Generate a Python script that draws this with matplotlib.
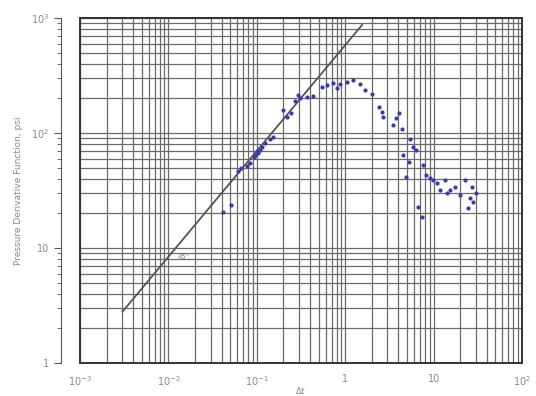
import matplotlib
matplotlib.use("Agg")
import matplotlib.pyplot as plt
from matplotlib.patches import Rectangle
import numpy as np

# derivative data
dt = [0.0412, 0.0508, 0.0619, 0.067, 0.0771, 0.0842, 0.0958, 0.104,
      0.109, 0.124, 0.141, 0.151, 0.222, 0.241, 0.27, 0.31, 0.366,
      0.436, 0.54, 0.62, 0.73, 0.87, 1.04, 1.23, 1.48, 1.69, 2.0,
      2.41, 2.61, 2.68, 3.47, 3.78, 4.1, 4.36, 4.56, 5.2, 4.9, 5.4,
      5.86, 6.3, 6.65, 7.3, 7.5, 8.3, 9.1, 9.9, 10.8, 11.8, 13.4,
      14.0, 15.2, 17.4, 19.7, 22.6, 24.6, 25.8, 26.9, 28.0, 30.4,
      0.092, 0.1, 0.113, 0.2, 0.29, 0.8]
deriv = [20.7, 23.7, 47, 49.3, 51.6, 54.5, 64.4, 67.3,
         71, 81.4, 88.1, 92.8, 139, 148, 191, 200, 207,
         210, 253, 262, 270, 265, 278, 290, 265, 237, 220,
         169, 153, 139, 117, 134, 150, 108, 64.4, 56.3, 41.2, 88.1,
         76, 71, 22.6, 18.7, 52.7, 43.1, 40.3, 39, 36.5, 32, 39,
         29.8, 32, 34.1, 29, 39, 22.1, 27, 34.1, 25.3, 29.8,
         62, 70, 75, 160, 215, 245]

# 45 degree reference line end points
line_x = [0.00303, 1.55]
line_y = [2.8, 870]

xtick_vals = [1e-3, 1e-2, 1e-1, 1, 10, 100]
xtick_labels = ["$10^{-3}$", "$10^{-2}$", "$10^{-1}$", "1", "10", "$10^2$"]
ytick_vals = [1, 10, 100, 1000]
ytick_labels = ["1", "10", "$10^2$", "$10^3$"]

fig = plt.figure(figsize=(5.36, 3.96), dpi=100)
ax = fig.add_axes([0.1493, 0.0833, 0.8246, 0.8712])
ax.set_xscale("log")
ax.set_yscale("log")
ax.set_xlim(1e-3, 1e2)
ax.set_ylim(1, 1e3)

# log graph paper
ax.grid(True, which="both", color="#6a6a6a", linewidth=0.9)
ax.set_axisbelow(True)

ax.plot(line_x, line_y, "-", color="#555555", linewidth=1.3)
ax.plot(dt, deriv, "o", color="#3a3aa8", markersize=3,
        markeredgewidth=0)
ax.text(0.0127, 8.4, "45°", fontsize=5, color="#888888", va="center")

# frame round the paper
for s in ["top", "right", "bottom"]:
    ax.spines[s].set_visible(False)
ax.add_patch(Rectangle((0, 0), 1, 1, transform=ax.transAxes,
                       fill=False, edgecolor="#333333", linewidth=1.4,
                       clip_on=False, zorder=5))

# y axis sits a bit to the left of the paper
ax.spines["left"].set_position(("outward", 14))
ax.spines["left"].set_color("#555555")
ax.yaxis.set_ticks(ytick_vals)
ax.yaxis.set_ticklabels(ytick_labels)
ax.tick_params(axis="y", which="major", direction="out", length=5,
               color="#555555", labelsize=7, labelcolor="#888888", pad=3)
ax.tick_params(axis="y", which="minor", direction="out", length=3,
               color="#555555")

ax.xaxis.set_ticks(xtick_vals)
ax.xaxis.set_ticklabels(xtick_labels)
ax.tick_params(axis="x", which="both", length=0, labelsize=7,
               labelcolor="#888888", pad=8)

ax.set_ylabel("Pressure Derivative Function, psi", fontsize=6.5,
              color="#888888", labelpad=6)
ax.set_xlabel(r"$\Delta t$", fontsize=6, color="#888888", labelpad=-2)

fig.savefig("out.png", dpi=100)
